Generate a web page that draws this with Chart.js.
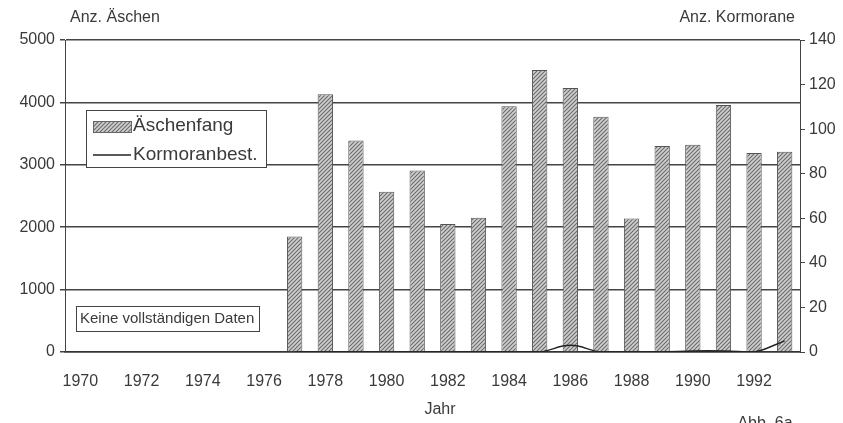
<!DOCTYPE html>
<html>
<head>
<meta charset="utf-8">
<script src="https://cdn.jsdelivr.net/npm/chart.js@4.4.1/dist/chart.umd.min.js"></script>
<style>
  html, body { margin: 0; padding: 0; background: #ffffff; }
  #wrap { position: relative; width: 843px; height: 423px; }
</style>
</head>
<body>
<div id="wrap"><canvas id="chart" width="843" height="423"></canvas></div>
<script>
// Jahre, Äschenfang und Kormoranbestand
var years = [];
for (var y = 1970; y <= 1993; y++) years.push(String(y));

var aeschen = [null, null, null, null, null, null, null,
  1850, 4130, 3390, 2570, 2910, 2050, 2150, 3940, 4520,
  4230, 3770, 2140, 3300, 3320, 3960, 3190, 3210];

var kormorane = [null, null, null, null, null, null, null,
  0, 0, 0, 0, 0, 0, 0, 0, 0,
  3, 0, 0, 0, 0.5, 0.5, 0, 5];

var fontName = '"Liberation Sans", Arial, sans-serif';
var ink = '#3a3a3a';

// schraffierte Füllung für die Balken
function hatch() {
  var c = document.createElement('canvas');
  c.width = 4; c.height = 4;
  var g = c.getContext('2d');
  g.fillStyle = '#cfcfcf';
  g.fillRect(0, 0, 4, 4);
  g.strokeStyle = '#6a6a6a';
  g.lineWidth = 1.1;
  g.beginPath();
  g.moveTo(-1, 5); g.lineTo(5, -1);
  g.moveTo(-1, 1); g.lineTo(1, -1);
  g.moveTo(3, 5); g.lineTo(5, 3);
  g.stroke();
  return g.createPattern(c, 'repeat');
}

var ctx = document.getElementById('chart').getContext('2d');
var fill = hatch();

// Legende, Hinweisbox und Achsentitel
var extras = {
  id: 'extras',
  afterDraw: function(chart) {
    var c = chart.ctx;
    c.save();
    c.fillStyle = ink;
    c.textBaseline = 'middle';
    c.font = '16px ' + fontName;
    c.textAlign = 'left';
    c.fillText('Anz. Äschen', 70, 18);
    c.textAlign = 'right';
    c.fillText('Anz. Kormorane', 795, 18);
    c.textAlign = 'center';
    c.fillText('Jahr', 440, 410);
    c.fillText('Abb. 6a', 765, 424);

    // Legende
    c.fillStyle = '#ffffff';
    c.fillRect(86, 110, 180, 57);
    c.strokeStyle = '#444';
    c.lineWidth = 1;
    c.strokeRect(86.5, 110.5, 180, 57);
    c.fillStyle = fill;
    c.fillRect(93, 121, 38, 11);
    c.strokeStyle = '#666';
    c.strokeRect(93.5, 121.5, 38, 11);
    c.strokeStyle = '#222';
    c.lineWidth = 1.5;
    c.beginPath();
    c.moveTo(93, 155); c.lineTo(131, 155);
    c.stroke();
    c.fillStyle = ink;
    c.textAlign = 'left';
    c.font = '19px ' + fontName;
    c.fillText('Äschenfang', 133, 126);
    c.fillText('Kormoranbest.', 133, 155);

    // Hinweis
    c.fillStyle = '#ffffff';
    c.fillRect(76, 306, 183, 25);
    c.strokeStyle = '#444';
    c.lineWidth = 1;
    c.strokeRect(76.5, 306.5, 183, 25);
    c.fillStyle = ink;
    c.font = '15px ' + fontName;
    c.fillText('Keine vollständigen Daten', 80, 319);
    c.restore();
  }
};

function plain(v) { return String(v); }

new Chart(ctx, {
  type: 'bar',
  data: {
    labels: years,
    datasets: [{
      type: 'line',
      label: 'Kormoranbest.',
      data: kormorane,
      yAxisID: 'y2',
      borderColor: '#222',
      borderWidth: 1.5,
      tension: 0.4,
      pointRadius: 0,
      fill: false,
      order: 0
    }, {
      label: 'Äschenfang',
      data: aeschen,
      yAxisID: 'y',
      backgroundColor: fill,
      borderColor: '#555',
      borderWidth: 1,
      barPercentage: 0.5,
      categoryPercentage: 1,
      order: 1
    }]
  },
  options: {
    responsive: false,
    animation: false,
    events: [],
    layout: { padding: { top: 40, left: 0, right: 0, bottom: 0 } },
    plugins: { legend: { display: false }, tooltip: { enabled: false } },
    scales: {
      x: {
        grid: { display: false, drawTicks: false },
        border: { color: '#333', width: 1.5 },
        ticks: {
          autoSkip: false,
          maxRotation: 0,
          padding: 20,
          color: ink,
          font: { family: fontName, size: 16 },
          callback: function(v, i) { return i % 2 === 0 ? years[i] : ''; }
        },
        afterFit: function(s) { s.height = 71; }
      },
      y: {
        position: 'left',
        min: 0, max: 5000,
        grid: { color: '#444', lineWidth: 1.5, tickLength: 5, tickColor: '#444' },
        border: { color: '#444', width: 1 },
        ticks: {
          stepSize: 1000,
          padding: 5,
          color: ink,
          font: { family: fontName, size: 16 },
          callback: plain
        },
        afterFit: function(s) { s.width = 65; }
      },
      y2: {
        position: 'right',
        min: 0, max: 140,
        grid: { drawOnChartArea: false, tickLength: 5, tickColor: '#444' },
        border: { color: '#444', width: 1 },
        ticks: {
          stepSize: 20,
          padding: 4,
          color: ink,
          font: { family: fontName, size: 16 },
          callback: plain
        },
        afterFit: function(s) { s.width = 43; }
      }
    }
  },
  plugins: [extras]
});
</script>
</body>
</html>
